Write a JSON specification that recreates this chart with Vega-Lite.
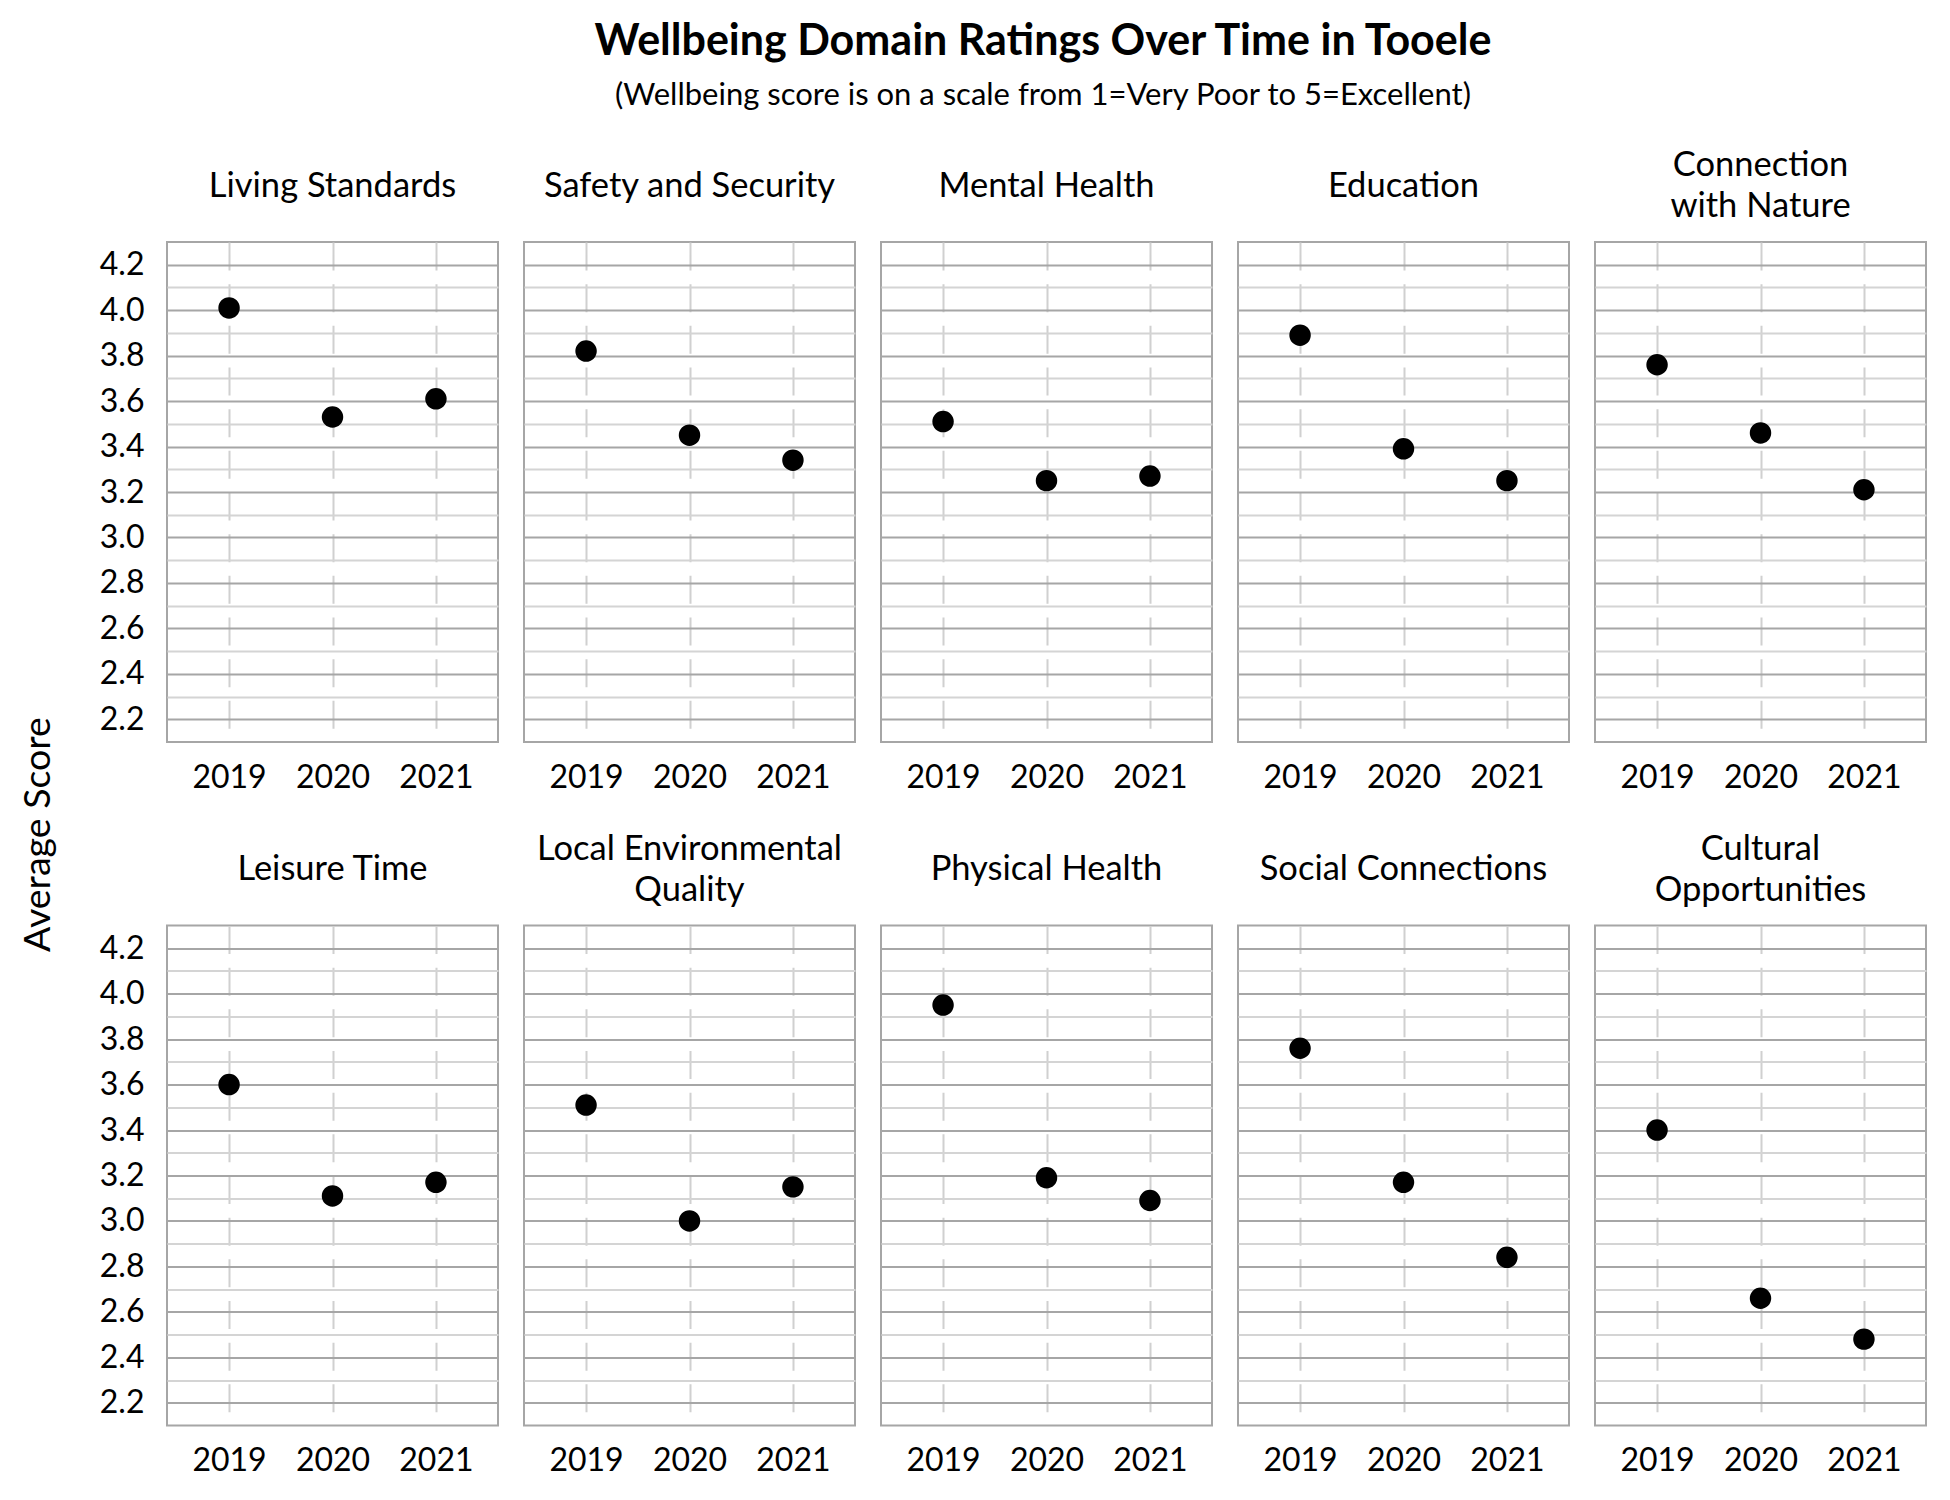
{
  "$schema": "https://vega.github.io/schema/vega-lite/v6.json",
  "background": "white",
  "padding": {"left": 19, "top": 21, "right": 10, "bottom": 10},
  "config": {
    "font": "Lato",
    "view": {"stroke": "#a6a6a6", "strokeWidth": 2},
    "concat": {"spacing": 40}
  },
  "title": {
    "text": "Wellbeing Domain Ratings Over Time in Tooele",
    "subtitle": "(Wellbeing score is on a scale from 1=Very Poor to 5=Excellent)",
    "font": "Lato",
    "fontSize": 43,
    "fontWeight": "bold",
    "color": "black",
    "subtitleFont": "Lato",
    "subtitleFontSize": 31,
    "subtitleColor": "black",
    "subtitlePadding": 17,
    "anchor": "middle",
    "dx": 70,
    "offset": 36
  },
  "data": {
    "values": [
      {"domain": "Living Standards", "year": "2019", "score": 4.01},
      {"domain": "Living Standards", "year": "2020", "score": 3.53},
      {"domain": "Living Standards", "year": "2021", "score": 3.61},
      {"domain": "Safety and Security", "year": "2019", "score": 3.82},
      {"domain": "Safety and Security", "year": "2020", "score": 3.45},
      {"domain": "Safety and Security", "year": "2021", "score": 3.34},
      {"domain": "Mental Health", "year": "2019", "score": 3.51},
      {"domain": "Mental Health", "year": "2020", "score": 3.25},
      {"domain": "Mental Health", "year": "2021", "score": 3.27},
      {"domain": "Education", "year": "2019", "score": 3.89},
      {"domain": "Education", "year": "2020", "score": 3.39},
      {"domain": "Education", "year": "2021", "score": 3.25},
      {"domain": "Connection with Nature", "year": "2019", "score": 3.76},
      {"domain": "Connection with Nature", "year": "2020", "score": 3.46},
      {"domain": "Connection with Nature", "year": "2021", "score": 3.21},
      {"domain": "Leisure Time", "year": "2019", "score": 3.60},
      {"domain": "Leisure Time", "year": "2020", "score": 3.11},
      {"domain": "Leisure Time", "year": "2021", "score": 3.17},
      {"domain": "Local Environmental Quality", "year": "2019", "score": 3.51},
      {"domain": "Local Environmental Quality", "year": "2020", "score": 3.00},
      {"domain": "Local Environmental Quality", "year": "2021", "score": 3.15},
      {"domain": "Physical Health", "year": "2019", "score": 3.95},
      {"domain": "Physical Health", "year": "2020", "score": 3.19},
      {"domain": "Physical Health", "year": "2021", "score": 3.09},
      {"domain": "Social Connections", "year": "2019", "score": 3.76},
      {"domain": "Social Connections", "year": "2020", "score": 3.17},
      {"domain": "Social Connections", "year": "2021", "score": 2.84},
      {"domain": "Cultural Opportunities", "year": "2019", "score": 3.40},
      {"domain": "Cultural Opportunities", "year": "2020", "score": 2.66},
      {"domain": "Cultural Opportunities", "year": "2021", "score": 2.48}
    ]
  },
  "hconcat": [
    {
      "data": {"values": [{"label": "Average Score"}]},
      "width": 40,
      "height": 1185,
      "view": {"stroke": null},
      "mark": {"type": "text", "angle": 270, "fontSize": 37.5, "color": "black", "baseline": "middle", "align": "center"},
      "encoding": {"text": {"field": "label"}}
    },
    {
      "facet": {
        "field": "domain",
        "type": "nominal",
        "sort": [
          "Living Standards", "Safety and Security", "Mental Health", "Education", "Connection with Nature",
          "Leisure Time", "Local Environmental Quality", "Physical Health", "Social Connections", "Cultural Opportunities"
        ],
        "header": {
          "title": null,
          "labelFont": "Lato",
          "labelFontSize": 34.5,
          "labelColor": "black",
          "labelBaseline": "middle",
          "labelLineHeight": 20.5,
          "labelPadding": 0.5,
          "labelExpr": "datum.value == 'Connection with Nature' ? ['Connection', '\u200b', 'with Nature'] : datum.value == 'Local Environmental Quality' ? ['Local Environmental', '\u200b', 'Quality'] : datum.value == 'Cultural Opportunities' ? ['Cultural', '\u200b', 'Opportunities'] : [datum.value, '\u200b']"
        }
      },
      "columns": 5,
      "spacing": {"column": 24, "row": 36.5},
      "resolve": {"axis": {"x": "independent"}},
      "spec": {
        "width": 331,
        "height": 500,
        "mark": {"type": "circle", "size": 460, "color": "black", "opacity": 1},
        "encoding": {
          "x": {
            "field": "year",
            "type": "nominal",
            "scale": {"type": "point", "padding": 0.6},
            "axis": {
              "title": null,
              "labelAngle": 0,
              "labelFontSize": 32,
              "labelColor": "black",
              "labelPadding": 20,
              "ticks": false,
              "domain": false,
              "grid": true,
              "gridColor": "#d0d0d0",
              "gridWidth": 2,
              "gridDash": [28, 13.67]
            }
          },
          "y": {
            "field": "score",
            "type": "quantitative",
            "scale": {"domain": [2.1, 4.3], "nice": false, "zero": false},
            "axis": {
              "title": null,
              "values": [2.2, 2.3, 2.4, 2.5, 2.6, 2.7, 2.8, 2.9, 3.0, 3.1, 3.2, 3.3, 3.4, 3.5, 3.6, 3.7, 3.8, 3.9, 4.0, 4.1, 4.2],
              "labelExpr": "round(datum.value * 10) % 2 == 0 ? format(datum.value, '.1f') : ''",
              "labelFontSize": 32,
              "labelColor": "black",
              "labelPadding": 22,
              "ticks": false,
              "domain": false,
              "grid": true,
              "gridWidth": 2,
              "gridColor": {
                "condition": {"test": "round(datum.value * 10) % 2 == 0", "value": "#a6a6a6"},
                "value": "#d4d4d4"
              }
            }
          }
        }
      }
    }
  ]
}
